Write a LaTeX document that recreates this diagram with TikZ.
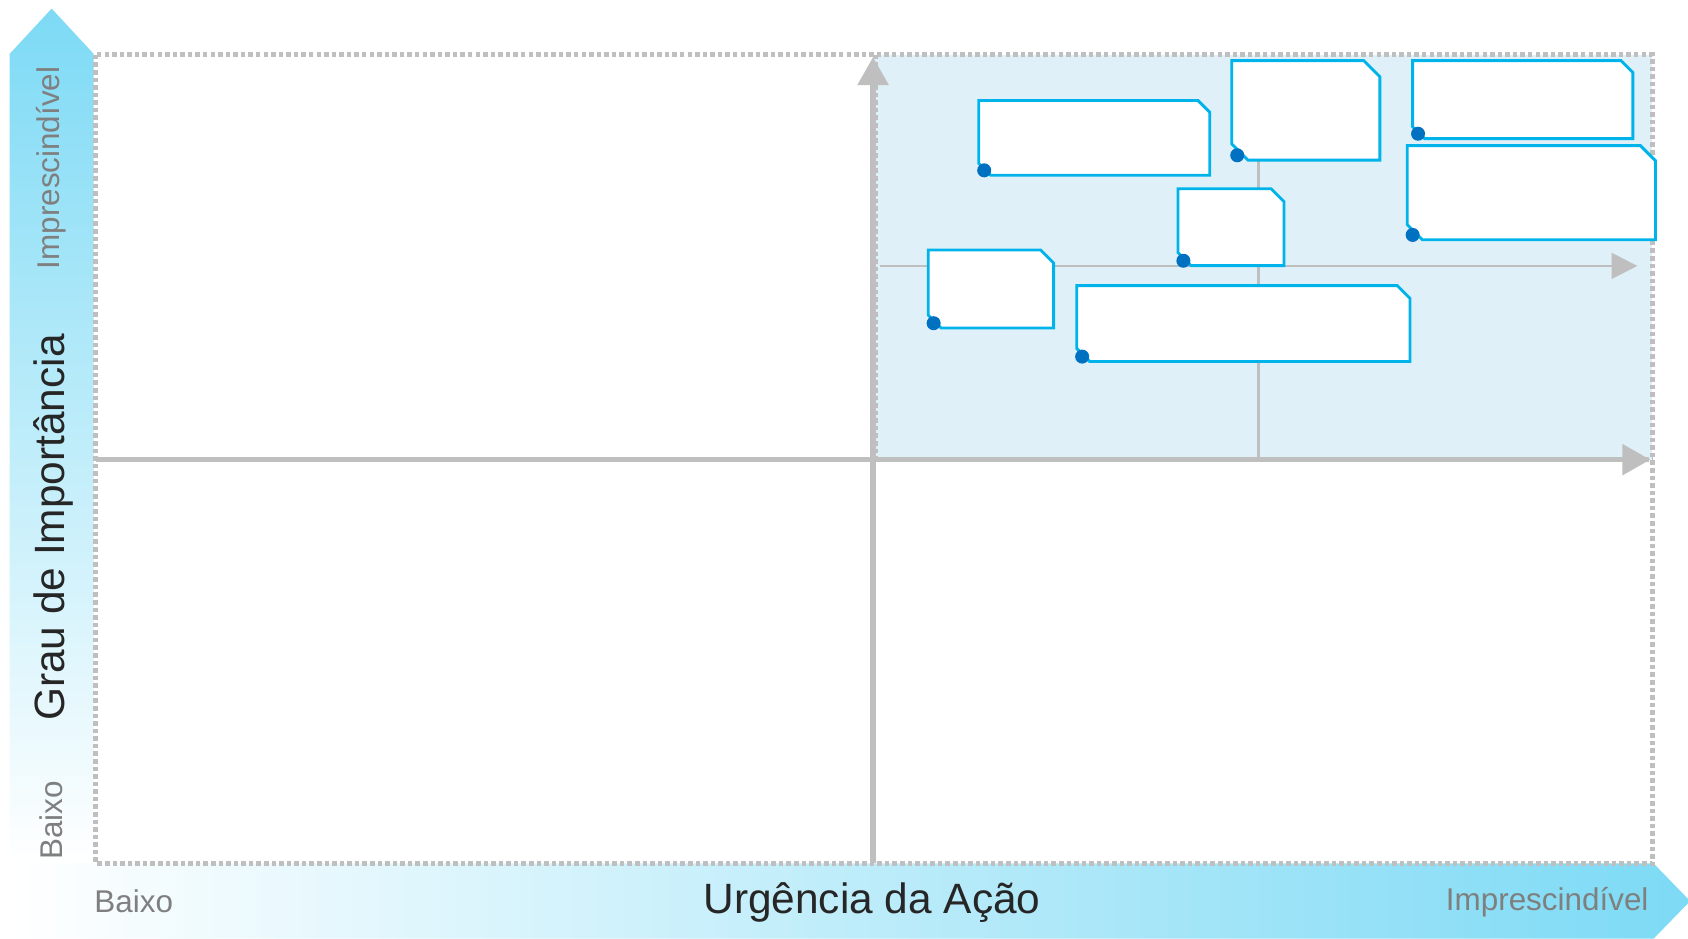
\documentclass[tikz,border=0pt]{standalone}
\usepackage{fontspec}
\setmainfont{Liberation Sans}
\usetikzlibrary{arrows.meta}

\definecolor{barcyan}{RGB}{125,218,245}
\definecolor{quadblue}{RGB}{223,240,248}
\definecolor{framegrey}{RGB}{191,191,191}
\definecolor{boxcyan}{RGB}{0,180,235}
\definecolor{dotblue}{RGB}{0,112,192}
\definecolor{labelgrey}{RGB}{127,127,127}
\definecolor{textblack}{RGB}{38,38,38}

\begin{document}
\begin{tikzpicture}[x=0.01cm, y=-0.01cm,
    frame/.style={framegrey, line width=1.3pt, dash pattern=on 1.2pt off 0.8pt},
    axis/.style={framegrey, line width=1.4pt, -{Triangle[length=0.26cm, width=0.28cm]}},
    subaxis/.style={framegrey, line width=0.6pt},
    note/.style={inner sep=0pt},
    noteline/.style={draw=boxcyan, fill=white, line width=0.75pt},
    pin/.style={fill=dotblue},
    biglabel/.style={textblack, inner sep=0pt, font=\fontsize{11.2}{13}\selectfont},
    smalllabel/.style={labelgrey, inner sep=0pt, font=\fontsize{8.3}{10}\selectfont}]
    \useasboundingbox (0,0) rectangle (1568,872);

    % Scale bars
    \shade[top color=barcyan, bottom color=white]
        (9,802) -- (9,50) -- (48,8) -- (87,50) -- (87,802) -- cycle;
    \shade[left color=white, right color=barcyan]
        (9,802) -- (1536,802) -- (1570,837) -- (1536,872) -- (9,872) -- cycle;

    % Priority quadrant and frame
    \fill[quadblue] (813,51) rectangle (1535,427);
    \draw[frame] (813,51) -- (813,427) -- (1535,427);
    \draw[frame] (89,51) rectangle (1535,802);

    % Axes
    \coordinate (xstart) at (89,427);
    \coordinate (xend) at (1533,427);
    \coordinate (ystart) at (811,802);
    \coordinate (yend) at (811,53);
    \coordinate (subxstart) at (817,247);
    \coordinate (subxend) at (1521,247);
    \coordinate (subystart) at (1169,427);
    \coordinate (subyend) at (1169,60);
    \draw[subaxis, -{Triangle[length=0.24cm, width=0.24cm]}] (subxstart) -- (subxend);
    \draw[subaxis] (subystart) -- (subyend);
    \draw[axis] (xstart) -- (xend);
    \draw[axis] (ystart) -- (yend);

    % Action notes
    \node[note, minimum width=2.13cm, minimum height=0.68cm] (a) at (1016.5,128) {};
    \node[note, minimum width=1.36cm, minimum height=0.91cm] (b) at (1213,102.5) {};
    \node[note, minimum width=2.03cm, minimum height=0.71cm] (c) at (1414.5,92.5) {};
    \node[note, minimum width=2.29cm, minimum height=0.86cm] (d) at (1422.5,179) {};
    \node[note, minimum width=0.97cm, minimum height=0.70cm] (e) at (1143.5,211) {};
    \node[note, minimum width=1.15cm, minimum height=0.71cm] (f) at (920.5,268.5) {};
    \node[note, minimum width=3.08cm, minimum height=0.69cm] (g) at (1155,300.5) {};

    % Cut corners and pins
    \foreach \n/\c in {a/0.11,b/0.15,c/0.11,d/0.14,e/0.12,f/0.12,g/0.12} {
        \filldraw[noteline] (\n.north west) -- ([xshift=-\c cm]\n.north east)
            -- ([yshift=-\c cm]\n.north east) -- (\n.south east)
            -- ([xshift=\c cm]\n.south west) -- ([yshift=\c cm]\n.south west) -- cycle;
        \fill[pin] ([xshift=0.05cm, yshift=0.045cm]\n.south west) circle (0.065cm);
    }

    % Labels
    \node[biglabel, rotate=90] (importance) at (50,490) {Grau de Importância};
    \node[smalllabel, rotate=90] (ytop) at (48,156) {Imprescindível};
    \node[smalllabel, rotate=90] (ylow) at (48,762) {Baixo};
    \node[biglabel] (urgency) at (810,838) {Urgência da Ação};
    \node[smalllabel, anchor=west] (xlow) at (87,837) {Baixo};
    \node[smalllabel, anchor=east] (xtop) at (1532,838) {Imprescindível};
\end{tikzpicture}
\end{document}
